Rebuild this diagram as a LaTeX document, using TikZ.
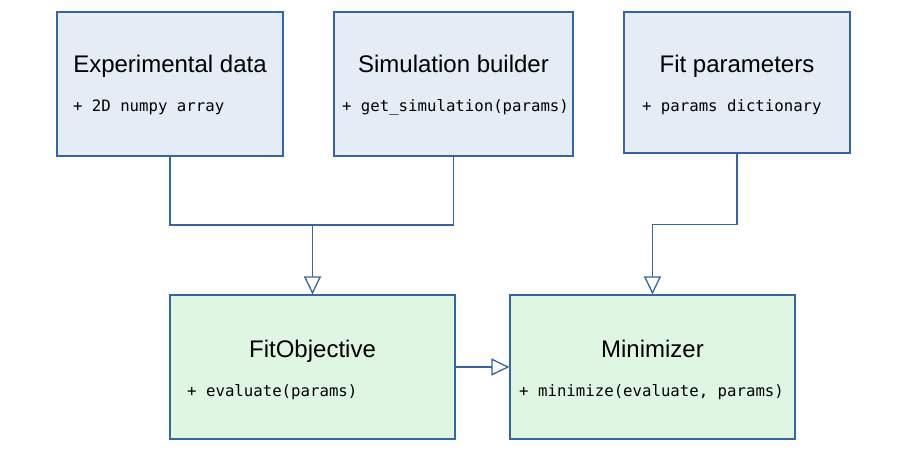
\documentclass[tikz,border=0pt]{standalone}
\usepackage{fontspec}
\setmainfont{Liberation Sans}
\setmonofont{DejaVu Sans Mono}
\usetikzlibrary{arrows.meta,positioning,calc}

\definecolor{umlblue}{RGB}{52,101,164}
\definecolor{datafill}{RGB}{228,236,246}
\definecolor{fitfill}{RGB}{223,246,226}

\tikzset{
  classbox/.style={rectangle, draw=umlblue, line width=1.2pt, inner sep=0pt},
  classname/.style={anchor=base, font=\fontsize{24}{28}\selectfont},
  method/.style={anchor=base west, font=\fontsize{15.7}{19}\selectfont\ttfamily},
  link/.style={draw=umlblue, line width=1.3pt},
  inherit/.style={link, -{Triangle[open, length=18pt, width=17pt, fill=white]}}
}

\begin{document}
\begin{tikzpicture}[x=1pt,y=-1pt]
\useasboundingbox (0,0) rectangle (907,454);

% Inputs
\node[classbox, fill=datafill, minimum width=226pt, minimum height=144pt] (expdata) at (170,84) {};
\node[classname] (expdatatitle) at (170,73) {Experimental data};
\node[method] (expdatamethod) at (69.5,112) {+ 2D numpy array};

\node[classbox, fill=datafill, minimum width=239pt, minimum height=144pt] (simbuilder) at (453.5,84) {};
\node[classname] (simbuildertitle) at (453.5,73) {Simulation builder};
\node[method] (simbuildermethod) at (338.5,112) {+ get\_simulation(params)};

\node[classbox, fill=datafill, minimum width=226pt, minimum height=141pt] (fitparams) at (737,82.5) {};
\node[classname] (fitparamstitle) at (737,73) {Fit parameters};
\node[method] (fitparamsmethod) at (638.5,112) {+ params dictionary};

% Fitting
\node[classbox, fill=fitfill, minimum width=285pt, minimum height=144pt] (fitobj) at (312.5,367) {};
\node[classname] (fitobjtitle) at (312.5,357) {FitObjective};
\node[method] (fitobjmethod) at (183.7,396) {+ evaluate(params)};

\node[classbox, fill=fitfill, minimum width=285pt, minimum height=144pt] (minimizer) at (652.5,367) {};
\node[classname] (minimizertitle) at (652.5,357) {Minimizer};
\node[method] (minimizermethod) at (515.7,396) {+ minimize(evaluate, params)};

% Connectors
\coordinate (merge) at (312.5,225);
\draw[link] (expdata.south) |- (merge);
\draw[link] (simbuilder.south) |- (merge);
\draw[inherit] (merge) -- (fitobj.north);
\draw[inherit] (fitparams.south) -- ++(0,71) -| (minimizer.north);
\draw[inherit] (fitobj.east) -- (minimizer.west);
\end{tikzpicture}
\end{document}
